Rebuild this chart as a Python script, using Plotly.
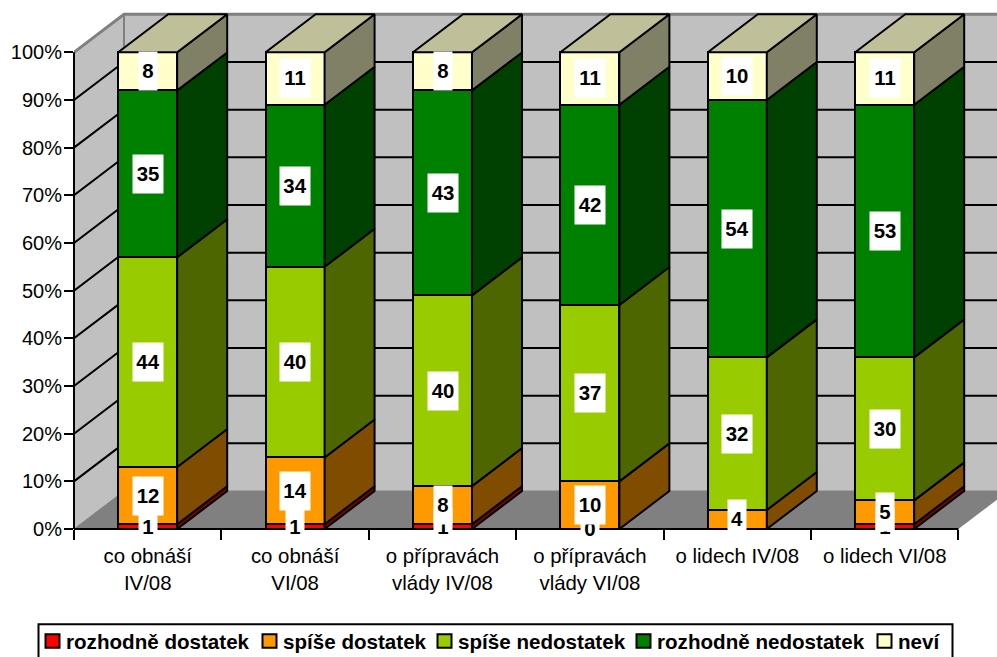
import plotly.graph_objects as go

categories = ["co obnáší<br>IV/08", "co obnáší<br>VI/08", "o přípravách<br>vlády IV/08",
              "o přípravách<br>vlády VI/08", "o lidech IV/08", "o lidech VI/08"]
series_names = ["rozhodně dostatek", "spíše dostatek", "spíše nedostatek", "rozhodně nedostatek", "neví"]
rozhodne_dostatek = [1, 1, 1, 0, 0, 1]
spise_dostatek = [12, 14, 8, 10, 4, 5]
spise_nedostatek = [44, 40, 40, 37, 32, 30]
rozhodne_nedostatek = [35, 34, 43, 42, 54, 53]
nevi = [8, 11, 8, 11, 10, 11]
y_ticks = [0, 10, 20, 30, 40, 50, 60, 70, 80, 90, 100]
front_colors = ["#FF0000", "#FF9900", "#99CC00", "#008000", "#FFFFCC"]
side_colors = ["#800000", "#804D00", "#4D6600", "#004000", "#808066"]
top_color = "#BFBF99"

series = [rozhodne_dostatek, spise_dostatek, spise_nedostatek, rozhodne_nedostatek, nevi]
W, H = 997, 657
L, BOTTOM = 74, 529.3
UX, UY = 147.4, 4.77
XMAX = (W - L) / UX
YMAX = BOTTOM / UY
DX, DY = 50 / UX, 38 / UY
BW = 0.4
n = len(categories)
centers = [i + 0.5 for i in range(n)]


def xp(v):
    return v / XMAX


def yp(v):
    return v / YMAX


def px(x):
    return (x - L) / (W - L)


def py(y):
    return (BOTTOM - y) / BOTTOM


fig = go.Figure()
shapes = []
GRAY = "#808080"


def poly(points, fill=None, color=None, width=0, layer="below"):
    d = "M" + " L".join(f"{x},{y}" for x, y in points)
    if fill:
        d += " Z"
    shapes.append(dict(type="path", path=d, fillcolor=fill, layer=layer, xref="x", yref="y",
                       line=dict(color=color or "rgba(0,0,0,0)", width=width)))


# walls and floor
poly([(DX, DY), (n + 2 * DX, DY), (n + 2 * DX, 100 + DY), (DX, 100 + DY)], fill="#C0C0C0")
poly([(0, 0), (DX, DY), (DX, 100 + DY), (0, 100)], fill="#C0C0C0")
poly([(0, 0), (n, 0), (n + DX, DY), (DX, DY)], fill=GRAY)
# gridlines on the walls
for t in y_ticks:
    edge = t in (0, 100)
    poly([(0, t), (DX, t + DY), (n + 2 * DX, t + DY)],
         color=GRAY if edge else "black", width=3 if t == 100 else (1 if edge else 2))
poly([(DX, DY), (DX, 100 + DY)], color=GRAY, width=2)

# front faces
for name, vals, col in zip(series_names, series, front_colors):
    fig.add_bar(x=centers, y=vals, name=name, width=BW, showlegend=False,
                marker=dict(color=col, line=dict(color="black", width=2)), hoverinfo="skip")

# side faces and tops
bases = [0] * n
for vals, col in zip(series, side_colors):
    xs, ys = [], []
    for i, v in enumerate(vals):
        if v:
            r = centers[i] + BW / 2
            xs += [r, r + DX, r + DX, r, r, None]
            ys += [bases[i], bases[i] + DY, bases[i] + v + DY, bases[i] + v, bases[i], None]
    fig.add_scatter(x=xs, y=ys, mode="lines", fill="toself", fillcolor=col,
                    line=dict(color="black", width=2), showlegend=False, hoverinfo="skip")
    bases = [b + v for b, v in zip(bases, vals)]
xs, ys = [], []
for i, c in enumerate(centers):
    l, r = c - BW / 2, c + BW / 2
    xs += [l, l + DX, r + DX, r, l, None]
    ys += [bases[i], bases[i] + DY, bases[i] + DY, bases[i], bases[i], None]
fig.add_scatter(x=xs, y=ys, mode="lines", fill="toself", fillcolor=top_color,
                line=dict(color="black", width=2), showlegend=False, hoverinfo="skip")

# axis lines (the plot area's edge would clip them otherwise)
AX = dict(type="line", xref="paper", yref="paper", line=dict(color="black", width=2), layer="above")
shapes.append(dict(x0=xp(0), x1=xp(n), y0=yp(0), y1=yp(0), **AX))
shapes.append(dict(x0=xp(0), x1=xp(0), y0=yp(0), y1=yp(100), **AX))

# value labels: later series sit over earlier ones, as in the reference;
# a zero whose box would lie wholly behind the box above it is not shown there
annotations = []
bases = [0] * n
for s, vals in enumerate(series):
    for i, v in enumerate(vals):
        hidden = v == 0 and s == 0 and series[1][i] < 5
        if not hidden:
            annotations.append(dict(x=centers[i], y=bases[i] + v / 2, xref="x", yref="y", text=f"<b>{v}</b>",
                                    showarrow=False, bgcolor="white", borderpad=0, height=38,
                                    width=18 if v < 10 else 30,
                                    font=dict(family="Liberation Sans", size=20.4, color="black")))
        bases[i] += v

# legend box
shapes.append(dict(type="rect", xref="paper", yref="paper", x0=px(38.5), x1=px(952.5), y0=py(624.5), y1=py(662),
                   fillcolor="white", line=dict(color="black", width=2), layer="above"))
swatch_x = [45, 262, 437, 636, 877]
for name, col, sx in zip(series_names, front_colors, swatch_x):
    shapes.append(dict(type="rect", xref="paper", yref="paper", x0=px(sx + 0.5), x1=px(sx + 14.5),
                       y0=py(634.5), y1=py(648), fillcolor=col,
                       line=dict(color="black", width=2), layer="above"))
    annotations.append(dict(x=px(sx + 19.5), y=py(642), xref="paper", yref="paper", xanchor="left",
                            yanchor="middle", text=f"<b>{name}</b>", showarrow=False, borderpad=0,
                            font=dict(family="Liberation Sans", size=20.6, color="black")))

fig.update_layout(
    width=W, height=H, margin=dict(l=L, r=0, t=0, b=H - BOTTOM),
    paper_bgcolor="white", plot_bgcolor="white", barmode="stack", showlegend=False,
    shapes=shapes, annotations=annotations,
    font=dict(family="Liberation Sans", size=20.4, color="black"),
    xaxis=dict(range=[0, XMAX], showgrid=False, zeroline=False, showline=False,
               tickmode="array", tickvals=centers, ticktext=categories, ticks="",
               tickangle=0, tickfont=dict(size=20.4), ticklabelstandoff=13,
               minor=dict(tickmode="array", tickvals=list(range(n + 1)), ticks="outside",
                          ticklen=10, tickwidth=2, tickcolor="black", showgrid=False)),
    yaxis=dict(range=[0, YMAX], showgrid=False, zeroline=False, showline=False,
               tickmode="array", tickvals=y_ticks, ticktext=[f"{t}%" for t in y_ticks],
               ticks="outside", ticklen=9, tickwidth=2, tickcolor="black", tickfont=dict(size=20),
               ticklabelstandoff=-2),
)

fig.write_html("out.html", config=dict(displayModeBar=False),
               post_script="document.body.style.margin='0';document.body.style.overflow='hidden';")
